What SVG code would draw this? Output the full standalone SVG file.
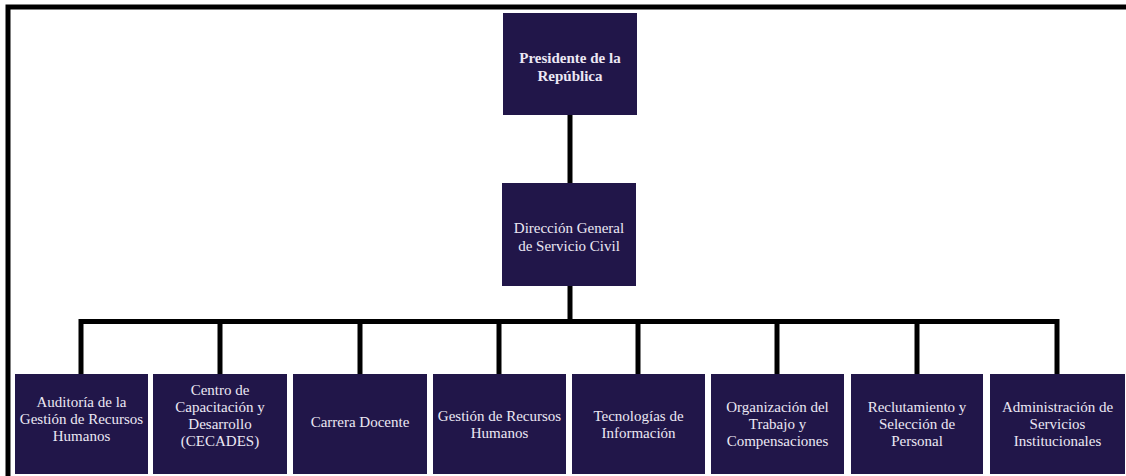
<svg xmlns="http://www.w3.org/2000/svg" width="1126" height="476" viewBox="0 0 1126 476">
<style>
.box{fill:#211649;}
.t{font-family:"Liberation Serif","Times New Roman",serif;font-size:15px;fill:#ece8f4;text-anchor:middle;}
.b{font-weight:bold;}
.ln{stroke:#000;stroke-width:5;fill:none;}
</style>
<rect x="0" y="0" width="1126" height="476" fill="#fff"/>
<g id="frame">
<path class="ln" d="M8,476 V7 H1126" stroke-width="4"/>
</g>
<g id="connectors">
<path class="ln" d="M570,115 V183"/>
<path class="ln" d="M570,286 V321.5"/>
<path class="ln" d="M81,374 V321.5 H1057 V374"/>
<path class="ln" d="M220,321.5 V374"/>
<path class="ln" d="M360,321.5 V374"/>
<path class="ln" d="M499,321.5 V374"/>
<path class="ln" d="M638,321.5 V374"/>
<path class="ln" d="M777,321.5 V374"/>
<path class="ln" d="M917,321.5 V374"/>
</g>
<g id="presidente">
<rect class="box" x="503" y="13" width="134" height="102"/>
<text class="t b" x="570" y="63">Presidente de la</text>
<text class="t b" x="570" y="81">República</text>
</g>
<g id="direccion">
<rect class="box" x="502" y="183" width="134" height="103"/>
<text class="t" x="569" y="233">Dirección General</text>
<text class="t" x="569" y="251">de Servicio Civil</text>
</g>
<g id="auditoria">
<rect class="box" x="15" y="374" width="133" height="100"/>
<text class="t" x="81.5" y="407">Auditoría de la</text>
<text class="t" x="81.5" y="424">Gestión de Recursos</text>
<text class="t" x="81.5" y="441">Humanos</text>
</g>
<g id="cecades">
<rect class="box" x="153" y="374" width="134" height="100"/>
<text class="t" x="220" y="395">Centro de</text>
<text class="t" x="220" y="412">Capacitación y</text>
<text class="t" x="220" y="429">Desarrollo</text>
<text class="t" x="220" y="446">(CECADES)</text>
</g>
<g id="carrera">
<rect class="box" x="293" y="374" width="134" height="100"/>
<text class="t" x="360" y="427">Carrera Docente</text>
</g>
<g id="gestion">
<rect class="box" x="433" y="374" width="133" height="100"/>
<text class="t" x="499.5" y="421">Gestión de Recursos</text>
<text class="t" x="499.5" y="438">Humanos</text>
</g>
<g id="tecnologias">
<rect class="box" x="572" y="374" width="133" height="100"/>
<text class="t" x="638.5" y="421">Tecnologías de</text>
<text class="t" x="638.5" y="438">Información</text>
</g>
<g id="organizacion">
<rect class="box" x="711" y="374" width="133" height="100"/>
<text class="t" x="777.5" y="412">Organización del</text>
<text class="t" x="777.5" y="429">Trabajo y</text>
<text class="t" x="777.5" y="446">Compensaciones</text>
</g>
<g id="reclutamiento">
<rect class="box" x="851" y="374" width="132" height="100"/>
<text class="t" x="917" y="412">Reclutamiento y</text>
<text class="t" x="917" y="429">Selección de</text>
<text class="t" x="917" y="446">Personal</text>
</g>
<g id="administracion">
<rect class="box" x="990" y="374" width="135" height="100"/>
<text class="t" x="1057.5" y="412">Administración de</text>
<text class="t" x="1057.5" y="429">Servicios</text>
<text class="t" x="1057.5" y="446">Institucionales</text>
</g>
</svg>
